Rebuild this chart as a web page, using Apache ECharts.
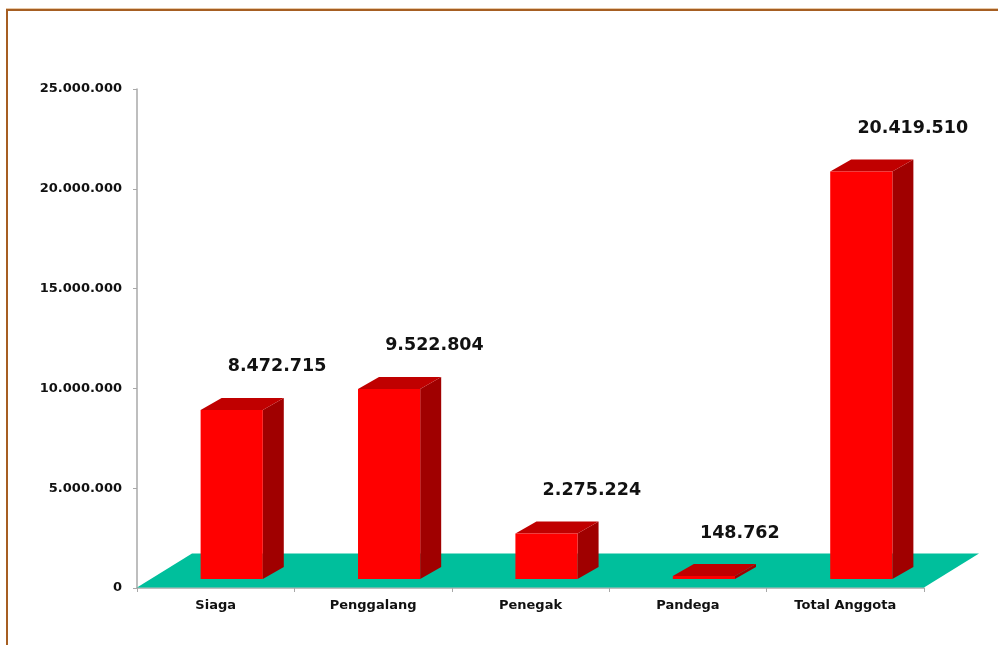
<!DOCTYPE html>
<html>
<head>
<meta charset="utf-8">
<script src="https://cdn.jsdelivr.net/npm/echarts@6/dist/echarts.min.js"></script>
<style>
  html, body { margin: 0; padding: 0; background: #fff; overflow: hidden; }
  #wrap { position: relative; width: 998px; height: 645px; }
  #chart { position: absolute; left: 0; top: 0; width: 998px; height: 645px; }
  /* brown frame of the slide */
  .frame {
    position: absolute; left: 6px; top: 9px; width: 1100px; height: 800px;
    border-left: 2px solid #A65E22; border-top: 2px solid #A65E22;
    box-shadow: 0 -1px 0 #E8C9A8;
    pointer-events: none;
  }
</style>
</head>
<body>
<div id="wrap">
  <div id="chart"></div>
  <div class="frame"></div>
</div>
<script>
// data
const categories = ['Siaga', 'Penggalang', 'Penegak', 'Pandega', 'Total Anggota']
const anggota = [8472715, 9522804, 2275224, 148762, 20419510]
const yMin = 0
const yMax = 25000000
const yStep = 5000000

const FONT = 'DejaVu Sans'

function titik(v) {
  return String(Math.round(v)).replace(/\B(?=(\d{3})+(?!\d))/g, '.')
}

// teal floor of the 3D chart, drawn from the grid rect
function renderFloor(params, api) {
  const cs = params.coordSys
  const yb = cs.y + cs.height - 0.5
  const dx = 55, dy = 34
  return {
    type: 'polygon',
    shape: {
      points: [
        [cs.x, yb],
        [cs.x + dx, yb - dy],
        [cs.x + cs.width + dx, yb - dy],
        [cs.x + cs.width, yb]
      ]
    },
    style: { fill: '#00BF9C' }
  }
}

// 3D-looking bar: front, side, top + value label
function renderBar(params, api) {
  const idx = api.value(0)
  const val = api.value(1)
  const base = api.coord([idx, 0])
  const top = api.coord([idx, val])
  const bandW = api.size([1, 0])[0]
  const w = bandW * 0.395
  const cx = base[0] + 16
  const x0 = cx - w / 2
  const x1 = cx + w / 2
  const yb = base[1] - 9
  const yt = top[1] - 9
  const dx = 21, dy = 12
  return {
    type: 'group',
    children: [
      {
        type: 'polygon',
        shape: { points: [[x1, yt], [x1 + dx, yt - dy], [x1 + dx, yb - dy], [x1, yb]] },
        style: { fill: '#A00000' }
      },
      {
        type: 'polygon',
        shape: { points: [[x0, yt], [x0 + dx, yt - dy], [x1 + dx, yt - dy], [x1, yt]] },
        style: { fill: '#C00000' }
      },
      {
        type: 'rect',
        shape: { x: x0, y: yt, width: w, height: yb - yt },
        style: { fill: '#FF0000' }
      },
      {
        type: 'text',
        x: x1 - 35,
        y: yt - 43,
        style: {
          text: titik(val),
          fontFamily: FONT,
          fontWeight: 'bold',
          fontSize: 17.5,
          fill: '#111',
          align: 'left',
          verticalAlign: 'middle'
        }
      }
    ]
  }
}

const chart = echarts.init(document.getElementById('chart'))

const option = {
  animation: false,
  backgroundColor: 'transparent',
  grid: { left: 137, right: 74, top: 89, bottom: 57, containLabel: false },
  xAxis: {
    type: 'category',
    data: categories,
    boundaryGap: true,
    axisLine: { show: true, onZero: false, lineStyle: { color: '#A8A8A8', width: 1.5 } },
    axisTick: { show: true, length: 4, lineStyle: { color: '#A8A8A8' } },
    axisLabel: {
      margin: 11,
      color: '#111',
      fontFamily: FONT,
      fontWeight: 'bold',
      fontSize: 13,
      interval: 0
    },
    splitLine: { show: false }
  },
  yAxis: {
    type: 'value',
    min: yMin,
    max: yMax,
    interval: yStep,
    axisLine: { show: true, lineStyle: { color: '#A8A8A8', width: 1.5 } },
    axisTick: { show: true, length: 4, lineStyle: { color: '#A8A8A8' } },
    axisLabel: {
      margin: 15,
      color: '#111',
      fontFamily: FONT,
      fontWeight: 'bold',
      fontSize: 13,
      formatter: titik
    },
    splitLine: { show: false }
  },
  series: [
    {
      name: 'lantai',
      type: 'custom',
      z: 1,
      silent: true,
      renderItem: renderFloor,
      data: [[0, 0]]
    },
    {
      name: 'Anggota',
      type: 'custom',
      z: 3,
      renderItem: renderBar,
      encode: { x: 0, y: 1 },
      data: anggota.map((v, i) => [i, v])
    }
  ]
}

chart.setOption(option)
</script>
</body>
</html>
